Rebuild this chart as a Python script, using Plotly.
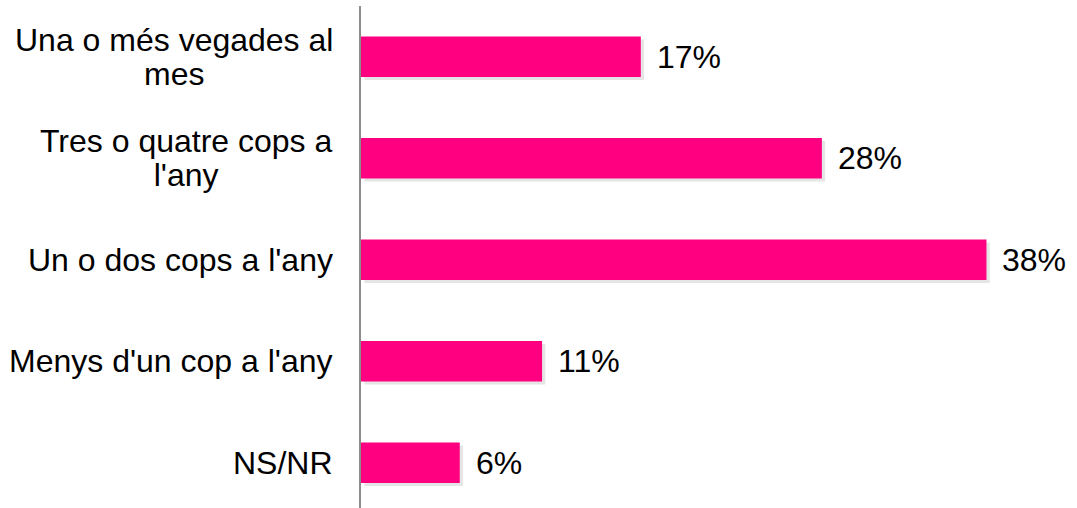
import plotly.graph_objects as go

categories = ["Una o més vegades al<br>mes", "Tres o quatre cops a<br>l'any",
              "Un o dos cops a l'any", "Menys d'un cop a l'any", "NS/NR"]
values = [17, 28, 38, 11, 6]
value_labels = ["17%", "28%", "38%", "11%", "6%"]

PINK = "#FF0080"
FS = 32

fig = go.Figure()
# soft shadow under the bars
fig.add_trace(go.Bar(y=categories, x=values, base=0.2, orientation="h", width=0.4,
                     offset=-0.17, marker=dict(color="rgba(0,0,0,0.10)", line_width=0),
                     hoverinfo="skip", showlegend=False))
fig.add_trace(go.Bar(y=categories, x=values, orientation="h", width=0.4, offset=-0.2,
                     marker=dict(color=PINK, line_width=0), showlegend=False))

for cat, val, lab in zip(categories, values, value_labels):
    # category label, lines centred on each other, right edge near the axis
    lines = ["<span style='font-size:%dpx'>%s</span>" % (FS, l) for l in cat.split("<br>")]
    fig.add_annotation(x=0, xref="paper", y=cat, yref="y", text="<br>".join(lines),
                       xanchor="right", yanchor="middle", align="center", xshift=-26,
                       showarrow=False, font=dict(size=26.3, color="black",
                                                  family="Liberation Sans, Arial"))
    fig.add_annotation(x=val, xref="x", y=cat, yref="y", text=lab, xanchor="left",
                       yanchor="middle", xshift=14, showarrow=False,
                       font=dict(size=FS, color="black", family="Liberation Sans, Arial"))

fig.update_layout(
    width=1077, height=508, barmode="overlay",
    margin=dict(l=361, r=0, t=6, b=0),
    plot_bgcolor="white", paper_bgcolor="white",
    xaxis=dict(range=[0, 43.5], visible=False),
    yaxis=dict(range=[4.446, -0.5], showticklabels=False, ticks="", showgrid=False,
               zeroline=False, showline=True, linecolor="#8c8c8c", linewidth=2),
)

fig.write_html("out.html", config={"displayModeBar": False},
               post_script="document.body.style.margin='0';")
